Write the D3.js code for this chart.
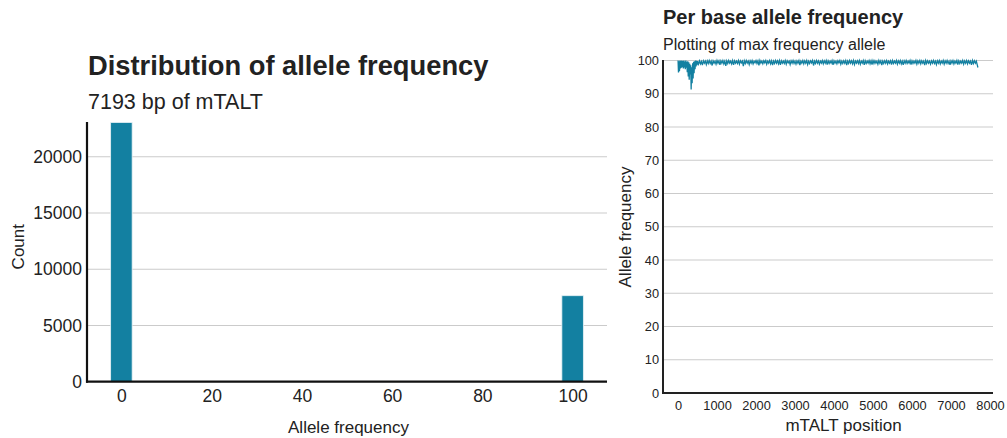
<!DOCTYPE html>
<html>
<head>
<meta charset="utf-8">
<script src="https://cdn.jsdelivr.net/npm/d3@7/dist/d3.min.js"></script>
<style>
  html, body { margin: 0; padding: 0; background: #ffffff; }
  svg { display: block; font-family: "Liberation Sans", Arial, Helvetica, sans-serif; }
</style>
</head>
<body>
<svg id="chart" width="1007" height="438"></svg>
<script>
// ---------- Left chart: histogram of allele frequency ----------
const histBinCenters = [0, 100];
const histCounts = [23040, 7644];
const histBinWidth = 100 / 21;
const histXTicks = [0, 20, 40, 60, 80, 100];
const histYTicks = [0, 5000, 10000, 15000, 20000];

// ---------- Right chart: per base max allele frequency ----------
const positions = [
  1, 12, 25, 37, 50, 62, 75, 87, 100, 112, 125, 137, 150, 162, 175, 187, 200, 212, 225, 237,
  250, 262, 275, 287, 300, 312, 325, 337, 350, 362, 375, 387, 400, 412, 425, 437, 450, 462, 475, 487,
  500, 525, 550, 575, 600, 625, 650, 675, 700, 725, 750, 775,
  800, 825, 850, 875, 900, 925, 950, 975, 1000, 1025, 1050, 1075,
  1100, 1125, 1150, 1175, 1200, 1225, 1250, 1275, 1300, 1325, 1350, 1375,
  1400, 1425, 1450, 1475, 1500, 1525, 1550, 1575, 1600, 1625, 1650, 1675,
  1700, 1725, 1750, 1775, 1800, 1825, 1850, 1875, 1900, 1925, 1950, 1975,
  2000, 2025, 2050, 2075, 2100, 2125, 2150, 2175, 2200, 2225, 2250, 2275,
  2300, 2325, 2350, 2375, 2400, 2425, 2450, 2475, 2500, 2525, 2550, 2575,
  2600, 2625, 2650, 2675, 2700, 2725, 2750, 2775, 2800, 2825, 2850, 2875,
  2900, 2925, 2950, 2975, 3000, 3025, 3050, 3075, 3100, 3125, 3150, 3175,
  3200, 3225, 3250, 3275, 3300, 3325, 3350, 3375, 3400, 3425, 3450, 3475,
  3500, 3525, 3550, 3575, 3600, 3625, 3650, 3675, 3700, 3725, 3750, 3775,
  3800, 3825, 3850, 3875, 3900, 3925, 3950, 3975, 4000, 4025, 4050, 4075,
  4100, 4125, 4150, 4175, 4200, 4225, 4250, 4275, 4300, 4325, 4350, 4375,
  4400, 4425, 4450, 4475, 4500, 4525, 4550, 4575, 4600, 4625, 4650, 4675,
  4700, 4725, 4750, 4775, 4800, 4825, 4850, 4875, 4900, 4925, 4950, 4975,
  5000, 5025, 5050, 5075, 5100, 5125, 5150, 5175, 5200, 5225, 5250, 5275,
  5300, 5325, 5350, 5375, 5400, 5425, 5450, 5475, 5500, 5525, 5550, 5575,
  5600, 5625, 5650, 5675, 5700, 5725, 5750, 5775, 5800, 5825, 5850, 5875,
  5900, 5925, 5950, 5975, 6000, 6025, 6050, 6075, 6100, 6125, 6150, 6175,
  6200, 6225, 6250, 6275, 6300, 6325, 6350, 6375, 6400, 6425, 6450, 6475,
  6500, 6525, 6550, 6575, 6600, 6625, 6650, 6675, 6700, 6725, 6750, 6775,
  6800, 6825, 6850, 6875, 6900, 6925, 6950, 6975, 7000, 7025, 7050, 7075,
  7100, 7125, 7150, 7175, 7200, 7225, 7250, 7275, 7300, 7325, 7350, 7375,
  7400, 7425, 7450, 7475, 7500, 7525, 7550, 7575, 7600, 7625, 7650, 7675,
  7690
];
const maxAlleleFreq = [
  100, 96.4, 99.8, 96.8, 100, 97.6, 99.9, 97.8, 100, 98.0, 99.8, 97.6, 100, 97.9, 99.7, 97.4, 100, 97.8, 99.6, 96.5,
  99.8, 95.2, 99.5, 94.2, 99.0, 95.8, 98.6, 91.3, 98.0, 93.2, 99.2, 94.6, 99.6, 96.2, 99.8, 97.4, 100, 98.2, 99.9, 98.6,
  99.8, 98.9, 99.9, 99.0, 99.7, 98.6, 99.9, 99.2, 99.8, 98.8, 99.9, 99.1,
  100, 99.1, 99.8, 98.5, 99.9, 99.2, 99.8, 98.9, 100, 99.2, 99.9, 98.7,
  99.9, 99.2, 100, 99.0, 99.8, 98.4, 99.9, 99.1, 100, 99.2, 99.8, 99.0,
  100, 98.7, 99.9, 99.2, 99.8, 99.1, 100, 98.9, 99.9, 99.3, 99.8, 98.3,
  99.9, 99.1, 100, 99.2, 99.8, 98.8, 99.9, 99.2, 100, 99.0, 99.8, 99.3,
  100, 99.1, 99.9, 98.5, 100, 99.2, 99.8, 99.0, 99.9, 99.3, 100, 98.9,
  99.8, 99.2, 100, 99.0, 99.9, 98.6, 99.8, 99.1, 100, 99.2, 99.9, 99.0,
  100, 98.7, 99.9, 99.2, 99.8, 99.1, 100, 98.9, 99.9, 99.3, 99.8, 98.8,
  99.9, 99.2, 100, 99.1, 99.8, 98.9, 99.9, 99.2, 100, 98.6, 99.8, 99.2,
  100, 99.0, 99.9, 99.2, 100, 98.8, 99.8, 99.1, 99.9, 99.3, 100, 98.5,
  99.8, 99.1, 100, 99.2, 99.9, 98.9, 99.8, 99.2, 100, 99.0, 99.9, 99.2,
  100, 98.8, 99.9, 99.1, 99.8, 99.2, 100, 98.7, 99.9, 99.2, 99.8, 99.0,
  99.9, 99.3, 100, 98.9, 99.8, 99.1, 99.9, 99.2, 100, 98.6, 99.8, 99.1,
  100, 99.2, 99.9, 99.0, 100, 98.8, 99.8, 99.2, 99.9, 99.1, 100, 98.9,
  99.8, 99.2, 100, 98.7, 99.9, 99.1, 99.8, 99.2, 100, 99.0, 99.9, 98.8,
  100, 99.1, 99.9, 99.2, 99.8, 98.9, 100, 99.2, 99.9, 98.6, 99.8, 99.1,
  99.9, 99.2, 100, 99.0, 99.8, 99.2, 99.9, 98.8, 100, 99.1, 99.8, 99.2,
  100, 98.9, 99.9, 99.2, 100, 99.0, 99.8, 98.7, 99.9, 99.2, 100, 99.1,
  99.8, 99.2, 100, 98.8, 99.9, 99.1, 99.8, 99.2, 100, 98.9, 99.9, 99.2,
  100, 99.0, 99.9, 99.2, 99.8, 98.6, 100, 99.1, 99.9, 99.2, 99.8, 98.9,
  99.9, 99.2, 100, 99.1, 99.8, 98.8, 99.9, 99.2, 100, 99.0, 99.8, 99.2,
  100, 98.9, 99.9, 99.2, 100, 99.1, 99.8, 98.7, 99.9, 99.2, 100, 99.0,
  99.8, 99.2, 100, 98.8, 99.9, 99.1, 99.8, 99.2, 100, 98.9, 99.9, 99.2,
  100, 99.0, 99.9, 99.2, 99.8, 98.7, 100, 99.1, 99.9, 99.2, 99.8, 98.6,
  97.9
];
const lineXTicks = [0, 1000, 2000, 3000, 4000, 5000, 6000, 7000, 8000];
const lineYTicks = [0, 10, 20, 30, 40, 50, 60, 70, 80, 90, 100];

const BLUE = "#1380A1";
const GRID = "#cbcbcb";
const TEXT = "#222222";

const svg = d3.select("#chart");

// ======== LEFT CHART ========
(function () {
  const x = d3.scaleLinear().domain([-7.62, 107.62]).range([87, 607]);
  const y = d3.scaleLinear().domain([0, 23040]).range([381.7, 122.5]);
  const g = svg.append("g");

  g.selectAll("line.grid").data(histYTicks.filter(d => d > 0)).join("line")
    .attr("x1", 87).attr("x2", 607)
    .attr("y1", d => y(d)).attr("y2", d => y(d))
    .attr("stroke", GRID).attr("stroke-width", 1.1);

  const bins = histBinCenters.map((c, i) => ({ c, n: histCounts[i] }));
  g.selectAll("rect.bar").data(bins).join("rect")
    .attr("x", d => x(d.c - histBinWidth / 2))
    .attr("width", d => x(d.c + histBinWidth / 2) - x(d.c - histBinWidth / 2))
    .attr("y", d => y(d.n))
    .attr("height", d => y(0) - y(d.n))
    .attr("fill", BLUE)
    .attr("stroke", "#e6f1f5").attr("stroke-width", 0.8);

  const yAxis = d3.axisLeft(y).tickValues(histYTicks).tickSize(0).tickPadding(5).tickFormat(d3.format("d"));
  const ya = g.append("g").attr("transform", "translate(87,0)").call(yAxis);
  ya.select(".domain").remove();
  ya.selectAll("text").attr("font-size", "17.5px").attr("fill", TEXT).attr("font-family", "Liberation Sans, Arial, sans-serif");

  const xAxis = d3.axisBottom(x).tickValues(histXTicks).tickSize(0).tickPadding(8).tickFormat(d3.format("d"));
  const xa = g.append("g").attr("transform", "translate(0,381.7)").call(xAxis);
  xa.select(".domain").remove();
  xa.selectAll("text").attr("font-size", "17.5px").attr("fill", TEXT).attr("font-family", "Liberation Sans, Arial, sans-serif");

  g.append("line").attr("x1", 87).attr("x2", 87).attr("y1", 122).attr("y2", 382.7)
    .attr("stroke", "#111").attr("stroke-width", 2.2);
  g.append("line").attr("x1", 86).attr("x2", 607).attr("y1", 381.7).attr("y2", 381.7)
    .attr("stroke", "#111").attr("stroke-width", 2.2);

  g.append("text").attr("x", 88).attr("y", 74.5).attr("font-size", "27.3px").attr("font-weight", "bold")
    .attr("fill", TEXT).text("Distribution of allele frequency");
  g.append("text").attr("x", 88).attr("y", 109).attr("font-size", "21.5px")
    .attr("fill", TEXT).text("7193 bp of mTALT");
  g.append("text").attr("x", 348.5).attr("y", 433).attr("font-size", "17px").attr("text-anchor", "middle")
    .attr("fill", TEXT).text("Allele frequency");
  g.append("text").attr("transform", "translate(23.5,246.7) rotate(-90)").attr("font-size", "17px")
    .attr("text-anchor", "middle").attr("fill", TEXT).text("Count");
})();

// ======== RIGHT CHART ========
(function () {
  const x = d3.scaleLinear().domain([-385, 8077]).range([663, 993]);
  const y = d3.scaleLinear().domain([0, 100]).range([393, 60.5]);
  const g = svg.append("g");

  g.selectAll("line.grid").data(lineYTicks.filter(d => d > 0)).join("line")
    .attr("x1", 663).attr("x2", 993)
    .attr("y1", d => y(d)).attr("y2", d => y(d))
    .attr("stroke", GRID).attr("stroke-width", 1);

  const pts = positions.map((p, i) => [p, maxAlleleFreq[i]]);
  const line = d3.line().x(d => x(d[0])).y(d => y(d[1]));
  g.append("path").datum(pts).attr("d", line)
    .attr("fill", "none").attr("stroke", BLUE).attr("stroke-width", 1.3).attr("stroke-linejoin", "miter");

  const yAxis = d3.axisLeft(y).tickValues(lineYTicks).tickSize(0).tickPadding(4).tickFormat(d3.format("d"));
  const ya = g.append("g").attr("transform", "translate(663,0)").call(yAxis);
  ya.select(".domain").remove();
  ya.selectAll("text").attr("font-size", "12.8px").attr("fill", TEXT).attr("font-family", "Liberation Sans, Arial, sans-serif");

  const xAxis = d3.axisBottom(x).tickValues(lineXTicks).tickSize(0).tickPadding(8).tickFormat(d3.format("d"));
  const xa = g.append("g").attr("transform", "translate(0,393)").call(xAxis);
  xa.select(".domain").remove();
  xa.selectAll("text").attr("font-size", "12.8px").attr("fill", TEXT).attr("font-family", "Liberation Sans, Arial, sans-serif");

  g.append("line").attr("x1", 663).attr("x2", 663).attr("y1", 60).attr("y2", 394)
    .attr("stroke", "#222").attr("stroke-width", 2);
  g.append("line").attr("x1", 662).attr("x2", 993).attr("y1", 393).attr("y2", 393)
    .attr("stroke", "#222").attr("stroke-width", 2);

  g.append("text").attr("x", 663).attr("y", 24).attr("font-size", "20px").attr("font-weight", "bold")
    .attr("fill", TEXT).text("Per base allele frequency");
  g.append("text").attr("x", 663).attr("y", 50).attr("font-size", "16px")
    .attr("fill", TEXT).text("Plotting of max frequency allele");
  g.append("text").attr("x", 843.5).attr("y", 431).attr("font-size", "17px").attr("text-anchor", "middle")
    .attr("fill", TEXT).text("mTALT position");
  g.append("text").attr("transform", "translate(631,227) rotate(-90)").attr("font-size", "17px")
    .attr("text-anchor", "middle").attr("fill", TEXT).text("Allele frequency");
})();
</script>
</body>
</html>
